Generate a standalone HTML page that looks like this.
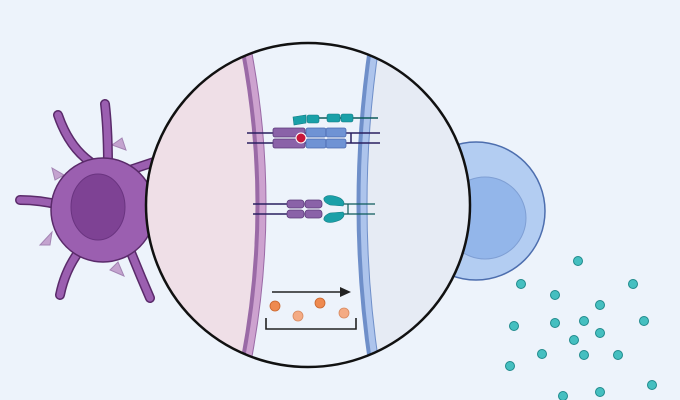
<!DOCTYPE html>
<html><head><style>body{margin:0;background:#edf3fb}svg{display:block}</style></head><body>
<svg width="680" height="400" viewBox="0 0 680 400" xmlns="http://www.w3.org/2000/svg">
<rect width="680" height="400" fill="#edf3fb"/>
<!-- dendritic cell -->
<g fill="#c4a3cf" stroke="#a384b3" stroke-width="1">
<path d="M112 145 L122 138 L126 150Z"/><path d="M50 245 L40 245 L52 232Z"/><path d="M118 262 L124 276 L110 270Z"/><path d="M55 180 L52 168 L64 175Z"/>
</g>
<g stroke="#5a2a6a" stroke-width="10" stroke-linecap="round" fill="none">
<path d="M95 165 Q70 150 58 115"/><path d="M108 165 Q108 130 105 104"/><path d="M60 205 Q40 200 20 200"/><path d="M80 250 Q65 270 60 295"/><path d="M130 250 Q140 275 150 298"/><path d="M130 170 L160 160"/>
</g>
<g stroke="#9b5fb0" stroke-width="7" stroke-linecap="round" fill="none">
<path d="M95 165 Q70 150 58 115"/><path d="M108 165 Q108 130 105 104"/><path d="M60 205 Q40 200 20 200"/><path d="M80 250 Q65 270 60 295"/><path d="M130 250 Q140 275 150 298"/><path d="M130 170 L160 160"/>
</g>
<circle cx="103" cy="210" r="52" fill="#9b5fb0" stroke="#5a2a6a" stroke-width="1.5"/>
<ellipse cx="98" cy="207" rx="27" ry="33" fill="#7e4294" stroke="#6a3480" stroke-width="1"/>
<!-- T cell -->
<circle cx="476" cy="211" r="69" fill="#b3cdf2" stroke="#4d6eae" stroke-width="1.5"/>
<circle cx="485" cy="218" r="41" fill="#93b6ea" stroke="#7f9fd4" stroke-width="1"/>
<!-- circle -->
<defs><clipPath id="c"><circle cx="308" cy="205" r="162"/></clipPath></defs>
<circle cx="308" cy="205" r="162" fill="#edf3fb"/>
<g clip-path="url(#c)">
<path d="M140 20 L240 20 Q282 205 240 390 L140 390Z" fill="#efdfe7"/>
<path d="M378 20 L480 20 L480 390 L378 390 Q346 205 378 20Z" fill="#e6ebf4"/>
<path d="M240 20 Q282 205 240 390" stroke="#9a6aa6" stroke-width="11" fill="none"/>
<path d="M241.5 20 Q283.5 205 241.5 390" stroke="#cda2cf" stroke-width="6" fill="none"/>
<path d="M378 20 Q346 205 378 390" stroke="#6f8fc9" stroke-width="11" fill="none"/>
<path d="M379.5 20 Q347.5 205 379.5 390" stroke="#adc4ec" stroke-width="6" fill="none"/>
</g>
<circle cx="308" cy="205" r="162" fill="none" stroke="#111" stroke-width="2.5"/>
<!-- top complex -->
<g stroke="#2a2060" stroke-width="1.5">
<line x1="247" y1="133" x2="380" y2="133"/><line x1="247" y1="143" x2="380" y2="143"/>
<line x1="351" y1="133" x2="351" y2="143"/>
</g>
<line x1="340" y1="118" x2="378" y2="118" stroke="#0d5a5a" stroke-width="1.5"/>
<line x1="318" y1="118" x2="328" y2="118" stroke="#0d5a5a" stroke-width="1.5"/>
<g fill="#8a62a8" stroke="#5a3a7a" stroke-width="0.8">
<rect x="273" y="128" width="32" height="9" rx="2"/><rect x="273" y="139" width="32" height="9" rx="2"/>
</g>
<g fill="#6f93d4" stroke="#4b6ab0" stroke-width="0.8">
<rect x="306" y="128" width="20" height="9" rx="2"/><rect x="326" y="128" width="20" height="9" rx="2"/>
<rect x="306" y="139" width="20" height="9" rx="2"/><rect x="326" y="139" width="20" height="9" rx="2"/>
</g>
<circle cx="301" cy="138" r="5" fill="#c8163a" stroke="#fff" stroke-width="1"/>
<g fill="#1aa0a8" stroke="#107a80" stroke-width="0.6">
<path d="M293 117 L306 115 L306 123 L294 125Z"/><rect x="307" y="115" width="12" height="8" rx="2"/>
<rect x="327" y="114" width="13" height="8" rx="2"/><rect x="341" y="114" width="12" height="8" rx="2"/>
</g>
<!-- bottom complex -->
<g stroke="#2a2060" stroke-width="1.5">
<line x1="253" y1="204" x2="290" y2="204"/><line x1="253" y1="214" x2="290" y2="214"/>
</g>
<g stroke="#0d5a5a" stroke-width="1.2">
<line x1="343" y1="204" x2="375" y2="204"/><line x1="343" y1="214" x2="375" y2="214"/><line x1="348" y1="204" x2="348" y2="214"/>
</g>
<g fill="#8a62a8" stroke="#5a3a7a" stroke-width="0.8">
<rect x="287" y="200" width="17" height="8" rx="3"/><rect x="305" y="200" width="17" height="8" rx="3"/>
<rect x="287" y="210" width="17" height="8" rx="3"/><rect x="305" y="210" width="17" height="8" rx="3"/>
</g>
<g fill="#1aa0a8" stroke="#107a80" stroke-width="0.6">
<path d="M324 198 Q328 193 340 198 Q346 202 343 206 L330 205 Q323 202 324 198Z"/>
<path d="M324 220 Q328 225 340 220 Q346 216 343 212 L330 213 Q323 216 324 220Z"/>
</g>
<!-- arrow -->
<line x1="272" y1="292" x2="342" y2="292" stroke="#222" stroke-width="1.5"/>
<path d="M351 292 L340 287 L340 297Z" fill="#222"/>
<g fill="#ee8a50" stroke="#c8652c" stroke-width="0.8">
<circle cx="275" cy="306" r="5"/><circle cx="320" cy="303" r="5"/>
</g>
<g fill="#f4ab84" stroke="#d88a60" stroke-width="0.8">
<circle cx="298" cy="316" r="5"/><circle cx="344" cy="313" r="5"/>
</g>
<path d="M266 318 L266 329 L356 329 L356 318" stroke="#222" stroke-width="1.6" fill="none"/>
<!-- dots -->
<g fill="#45bfc0" stroke="#1f8a8c" stroke-width="1">
<circle cx="578" cy="261" r="4.5"/><circle cx="521" cy="284" r="4.5"/><circle cx="555" cy="295" r="4.5"/>
<circle cx="633" cy="284" r="4.5"/><circle cx="600" cy="305" r="4.5"/><circle cx="514" cy="326" r="4.5"/>
<circle cx="555" cy="323" r="4.5"/><circle cx="584" cy="321" r="4.5"/><circle cx="600" cy="333" r="4.5"/>
<circle cx="644" cy="321" r="4.5"/><circle cx="574" cy="340" r="4.5"/><circle cx="542" cy="354" r="4.5"/>
<circle cx="584" cy="355" r="4.5"/><circle cx="618" cy="355" r="4.5"/><circle cx="510" cy="366" r="4.5"/>
<circle cx="652" cy="385" r="4.5"/><circle cx="563" cy="396" r="4.5"/><circle cx="600" cy="392" r="4.5"/>
</g>
</svg>
</body></html>
